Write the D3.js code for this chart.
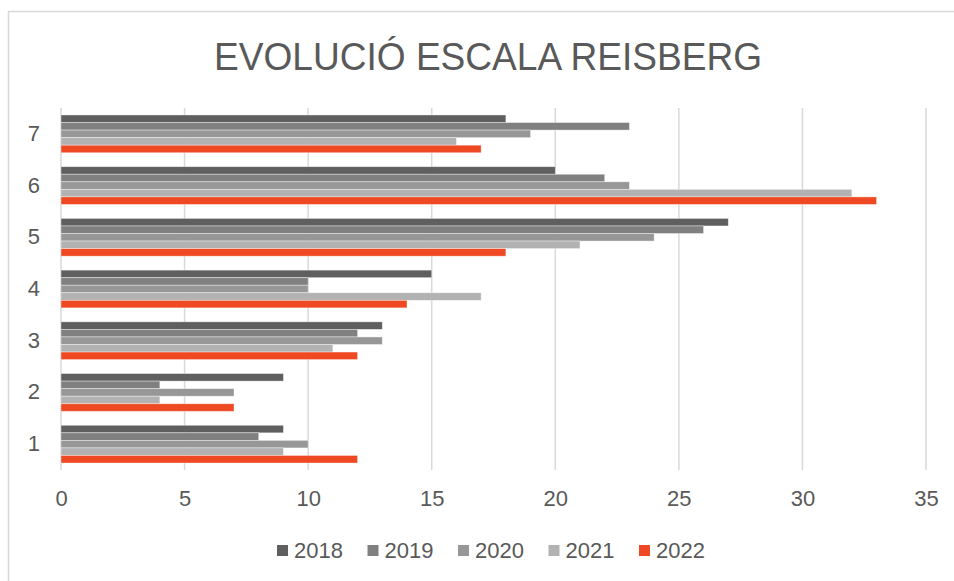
<!DOCTYPE html>
<html>
  <head>
    <meta charset="UTF-8" />
    <title>Evolució escala Reisberg</title>
    <script src="https://d3js.org/d3.v7.min.js"></script>
    <style>
      body { margin: 0; background: #fff; }
      text { font-family: 'Liberation Sans', Arial, sans-serif; fill: #595959; }
    </style>
  </head>
  <body>
    <div id="main"></div>
    <script type="text/javascript">
      const width = 954;
      const height = 581;

      // data
      const categories = ['7', '6', '5', '4', '3', '2', '1'];
      const years = ['2018', '2019', '2020', '2021', '2022'];
      const colors = ['#5f5f5f', '#808080', '#979797', '#b2b2b2', '#ef4923'];
      const v2018 = [18, 20, 27, 15, 13, 9, 9];
      const v2019 = [23, 22, 26, 10, 12, 4, 8];
      const v2020 = [19, 23, 24, 10, 13, 7, 10];
      const v2021 = [16, 32, 21, 17, 11, 4, 9];
      const v2022 = [17, 33, 18, 14, 12, 7, 12];
      const xTicks = [0, 5, 10, 15, 20, 25, 30, 35];

      const series = [v2018, v2019, v2020, v2021, v2022];

      const svg = d3
        .select('div#main')
        .append('svg')
        .attr('width', width)
        .attr('height', height);

      // chart border
      svg.append('rect')
        .attr('x', 8.5)
        .attr('y', 11.5)
        .attr('width', 1000)
        .attr('height', 700)
        .attr('fill', 'none')
        .attr('stroke', '#d9d9d9')
        .attr('stroke-width', 1.5);

      svg.append('text')
        .attr('x', 488)
        .attr('y', 70)
        .attr('text-anchor', 'middle')
        .attr('font-size', 38)
        .attr('textLength', 548)
        .attr('lengthAdjust', 'spacingAndGlyphs')
        .text('EVOLUCIÓ ESCALA REISBERG');

      const x = d3.scaleLinear().domain([0, 35]).range([61, 926]);
      const y = d3.scaleBand().domain(categories).range([108, 470])
        .paddingInner(0.27).paddingOuter(0.135);
      const ySub = d3.scaleBand().domain(years).range([0, y.bandwidth()]);

      // gridlines
      svg.append('g')
        .selectAll('line')
        .data(xTicks)
        .join('line')
        .attr('x1', d => x(d))
        .attr('x2', d => x(d))
        .attr('y1', 108)
        .attr('y2', 470)
        .attr('stroke', '#d9d9d9')
        .attr('stroke-width', 1.5);

      // bars
      years.forEach((yr, i) => {
        svg.append('g')
          .selectAll('rect')
          .data(series[i])
          .join('rect')
          .attr('x', x(0))
          .attr('y', (d, j) => y(categories[j]) + ySub(yr))
          .attr('width', d => x(d) - x(0))
          .attr('height', ySub.bandwidth())
          .attr('fill', colors[i])
          .attr('stroke', '#fff')
          .attr('stroke-opacity', 0.5)
          .attr('stroke-width', 0.75);
      });

      // x axis labels
      const xAxis = svg.append('g')
        .attr('transform', 'translate(0,482)')
        .call(d3.axisBottom(x).tickValues(xTicks).tickSize(0).tickPadding(8));
      xAxis.select('.domain').remove();
      xAxis.selectAll('text')
        .attr('font-size', 22)
        .attr('font-family', "'Liberation Sans', Arial, sans-serif")
        .attr('fill', '#595959');

      // y axis labels
      const yAxis = svg.append('g')
        .attr('transform', 'translate(40,0)')
        .call(d3.axisLeft(y).tickSize(0).tickPadding(0));
      yAxis.select('.domain').remove();
      yAxis.selectAll('text')
        .attr('font-size', 22)
        .attr('font-family', "'Liberation Sans', Arial, sans-serif")
        .attr('fill', '#595959');

      // legend
      const legend = svg.append('g')
        .selectAll('g')
        .data(years)
        .join('g')
        .attr('transform', (d, i) => `translate(${277 + i * 90.5},550)`);
      legend.append('rect')
        .attr('x', 0)
        .attr('y', -5)
        .attr('width', 11)
        .attr('height', 11)
        .attr('fill', (d, i) => colors[i]);
      legend.append('text')
        .attr('x', 17)
        .attr('y', 8)
        .attr('font-size', 22)
        .text(d => d);
    </script>
  </body>
</html>
